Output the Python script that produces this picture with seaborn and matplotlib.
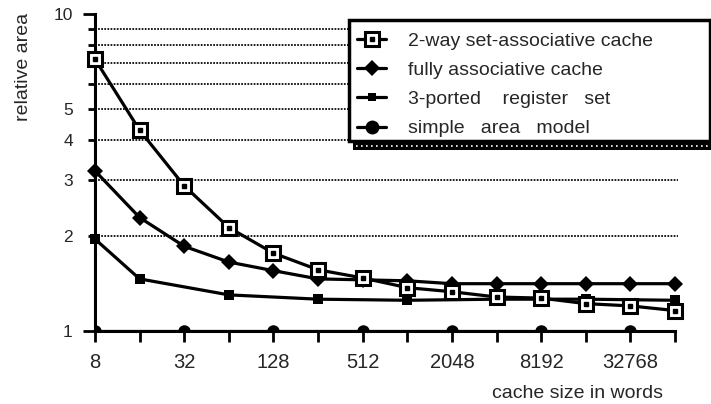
import matplotlib
matplotlib.use("Agg")
import matplotlib.pyplot as plt
from matplotlib import font_manager
from matplotlib.patches import Rectangle
from matplotlib.legend_handler import HandlerTuple
from matplotlib.lines import Line2D
import seaborn as sns

# cache sizes (words) and relative area of each organisation
sizes = [8, 16, 32, 64, 128, 256, 512, 1024, 2048, 4096, 8192, 16384, 32768, 65536]
two_way = [7.2, 4.3, 2.87, 2.12, 1.76, 1.56, 1.47, 1.37, 1.33, 1.28, 1.27, 1.22, 1.20, 1.16]
fully_assoc = [3.2, 2.28, 1.85, 1.65, 1.55, 1.46, 1.45, 1.44, 1.41, 1.41, 1.41, 1.41, 1.41, 1.41]
reg_sizes = [8, 16, 64, 256, 1024, 4096, 16384, 65536]
reg_set = [1.95, 1.46, 1.30, 1.26, 1.25, 1.26, 1.26, 1.25]
simple_sizes = [8, 32, 128, 512, 2048, 8192, 32768]
simple_model = [1, 1, 1, 1, 1, 1, 1]

labels = ["2-way set-associative cache", "fully associative cache",
          "3-ported    register   set", "simple   area   model"]
x_ticks = sizes
x_ticklabels = [str(s) if i % 2 == 0 else "" for i, s in enumerate(sizes)]
y_ticks = [1, 2, 3, 4, 5, 6, 7, 8, 9, 10]
y_ticklabels = ["1", "2", "3", "4", "5", "", "", "", "", "10"]

sns.set_style("ticks")
names = {f.name for f in font_manager.fontManager.ttflist}
base = "Liberation Sans" if "Liberation Sans" in names else "DejaVu Sans"
plt.rcParams["font.family"] = [base, "DejaVu Sans"]

W, H = 711, 404
fig = plt.figure(figsize=(W / 100, H / 100), dpi=100)
ax = fig.add_axes([95 / W, 1 - 331 / H, 580 / W, 317 / H])

lw = 2.3
sns.lineplot(x=sizes, y=two_way, ax=ax, color="black", lw=lw, marker="s",
             markersize=9.5, markerfacecolor="white", markeredgecolor="black",
             markeredgewidth=2.2, clip_on=False, zorder=5)
ax.plot(sizes, two_way, "s", color="black", ms=2.6, clip_on=False, zorder=6)
sns.lineplot(x=sizes, y=fully_assoc, ax=ax, color="black", lw=lw, marker="D",
             markersize=8.5, markeredgewidth=0, clip_on=False, zorder=4)
sns.lineplot(x=reg_sizes, y=reg_set, ax=ax, color="black", lw=lw, marker="s",
             markersize=7, markeredgewidth=0, clip_on=False, zorder=3)
sns.lineplot(x=simple_sizes, y=simple_model, ax=ax, color="black", lw=lw,
             marker="o", markersize=9, markeredgewidth=0, zorder=3)

ax.set_xscale("log", base=2)
ax.set_yscale("log")
ax.set_xlim(8, 65536)
ax.set_ylim(1, 10)
ax.set_xticks(x_ticks)
ax.set_xticklabels(x_ticklabels, fontsize=14.5)
ax.set_yticks(y_ticks)
ax.set_yticklabels(y_ticklabels, fontsize=12.5)
ax.minorticks_off()
ax.tick_params(axis="x", direction="out", length=8, width=2, pad=8, color="black")
ax.tick_params(axis="y", direction="out", length=5, width=2, pad=11, color="black")
for t in (ax.yaxis.get_major_ticks()[0], ax.yaxis.get_major_ticks()[-1]):
    t.tick1line.set_markersize(9)
for s in ("top", "right"):
    ax.spines[s].set_visible(False)
for s in ("left", "bottom"):
    ax.spines[s].set_linewidth(2.2)
    ax.spines[s].set_color("black")

# dotted horizontal guides
for g in [2, 3, 4, 5, 6, 7, 8, 9]:
    ax.axhline(g, xmin=0, xmax=1.005, color="#1a1a1a", lw=1.4,
               linestyle=(0, (0.9, 0.7)), clip_on=False, zorder=1)

ax.set_xlabel("")
ax.set_ylabel("")
fig.text(24 / W, 1 - 67 / H, "relative area", rotation=90, ha="center",
         va="center", fontsize=14)
fig.text(663 / W, 1 - 393 / H, "cache size in words", ha="right",
         va="center", fontsize=14)

# legend box with a dotted drop shadow
fig.patches.append(Rectangle((353 / W, 1 - 150 / H), 360 / W, 9 / H,
                             transform=fig.transFigure, facecolor="black",
                             edgecolor="none", zorder=7))
fig.lines.append(Line2D([356 / W, 711 / W], [1 - 146 / H, 1 - 146 / H],
                        transform=fig.transFigure, color="white", lw=1.2,
                        linestyle=(0, (1, 2)), zorder=8))
fig.patches.append(Rectangle((349 / W, 1 - 141 / H), 361 / W, 121 / H,
                             transform=fig.transFigure, facecolor="white",
                             edgecolor="black", lw=2.5, zorder=9))

h_two = Line2D([], [], color="black", lw=lw, marker="s", markersize=9.5,
               markerfacecolor="white", markeredgecolor="black", markeredgewidth=2.2)
h_dot = Line2D([], [], color="none", marker="s", markersize=2.6,
               markerfacecolor="black", markeredgecolor="black")
h_full = Line2D([], [], color="black", lw=lw, marker="D", markersize=8.5, markeredgewidth=0)
h_reg = Line2D([], [], color="black", lw=lw, marker="s", markersize=6, markeredgewidth=0)
h_simple = Line2D([], [], color="black", lw=lw, marker="o", markersize=10, markeredgewidth=0)
leg = fig.legend([(h_two, h_dot), h_full, h_reg, h_simple], labels,
                 handler_map={tuple: HandlerTuple(ndivide=1)},
                 loc="upper left", bbox_to_anchor=(357 / W, 1 - 32 / H),
                 frameon=False, fontsize=14, handlelength=1.5,
                 handletextpad=1.1, labelspacing=0.6, borderpad=0,
                 borderaxespad=0)
leg.set_zorder(10)

fig.savefig("out.png", dpi=100)
